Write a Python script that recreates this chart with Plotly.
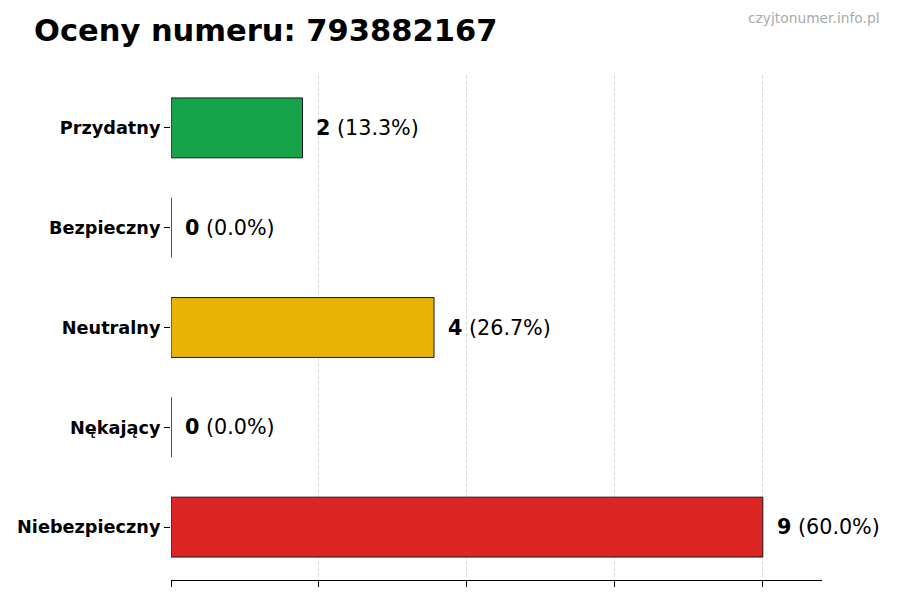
import plotly.graph_objects as go

# kategorie od dołu do góry (jak na wykresie)
categories = ['Niebezpieczny', 'Nękający', 'Neutralny', 'Bezpieczny', 'Przydatny']
counts = [9, 0, 4, 0, 2]
colors = ['#dc2626', '#9ca3af', '#eab308', '#3b82f6', '#16a34a']
phone = '793882167'

total = sum(counts)
max_val = max(counts)

fig = go.Figure(go.Bar(
    y=categories,
    x=counts,
    orientation='h',
    width=0.6,
    marker=dict(color=colors, line=dict(color='#1a1a1a', width=1)),
    hoverinfo='skip',
))

# etykiety z liczbą i procentem
for cat, val in zip(categories, counts):
    pct = 100 * val / total if total else 0
    fig.add_annotation(
        x=val + max_val * 0.02, y=cat, xref='x', yref='y',
        text='<b>%d</b> (%.1f%%)' % (val, pct),
        showarrow=False, xanchor='left', yanchor='middle',
        font=dict(family='DejaVu Sans', size=20.7, color='black'),
    )

fig.update_layout(title=dict(
    text='<b>Oceny numeru: %s</b>' % phone,
    xref='container', yref='container', x=26 / 900, y=1 - 22 / 600,
    xanchor='left', yanchor='middle',
    font=dict(family='DejaVu Sans', size=30.5, color='black'),
))
# znak wodny w prawym górnym rogu (poza obszarem wykresu)
fig.add_annotation(
    x=1.092, y=1.132, xref='paper', yref='paper', xanchor='right', yanchor='top',
    text='czyjtonumer.info.pl', showarrow=False,
    font=dict(family='DejaVu Sans', size=13.8, color='#aaaaaa'),
)

fig.update_xaxes(
    range=[0, max_val * 1.1], automargin=False,
    tickmode='array', tickvals=[max_val * i / 4 for i in range(5)], showticklabels=False,
    ticks='outside', ticklen=6, tickcolor='black',
    showline=True, linecolor='black', linewidth=1,
    showgrid=True, gridcolor='#d9d9d9', griddash='4px,2px', gridwidth=1,
    zeroline=False,
)
fig.update_yaxes(
    range=[-0.53, 4.53], automargin=False,
    ticks='outside', ticklen=6, tickcolor='black',
    showline=False, showgrid=False, zeroline=False,
    tickfont=dict(family='DejaVu Sans', size=17.7, color='black'),
    categoryorder='array', categoryarray=categories,
    tickvals=categories, ticktext=['<b>%s</b>' % c for c in categories],
)

fig.update_layout(
    width=900, height=600,
    margin=dict(l=163, r=86, t=67, b=28),
    plot_bgcolor='white', paper_bgcolor='white',
    showlegend=False,
    font=dict(family='DejaVu Sans'),
)

fig.write_html('out.html')
